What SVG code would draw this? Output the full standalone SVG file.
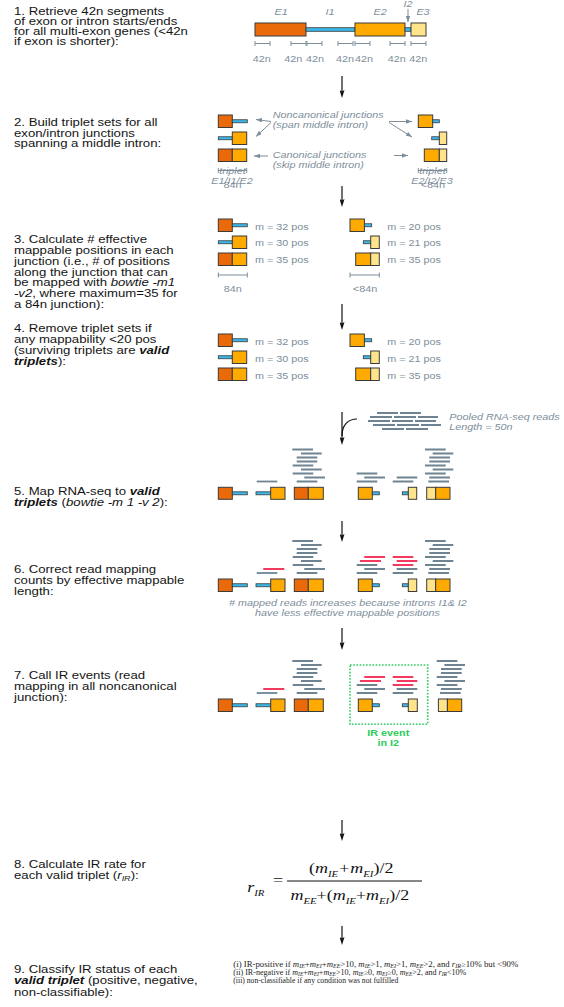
<svg xmlns="http://www.w3.org/2000/svg" width="564" height="1007" viewBox="0 0 564 1007">
<defs>
<style>
.t{font-family:"Liberation Sans",Arial,sans-serif;font-size:11px;fill:#141414}
.g{font-family:"Liberation Sans",Arial,sans-serif;font-size:9px;fill:#7d8e9a}
.i{font-style:italic}
.bi{font-weight:bold;font-style:italic}
.e1{fill:#EA6A0A;stroke:#3a3a3a;stroke-width:1}
.e2{fill:#FFAA00;stroke:#3a3a3a;stroke-width:1}
.e3{fill:#FFE48C;stroke:#3a3a3a;stroke-width:1}
.in{fill:#3DB7EA;stroke:#3a3a3a;stroke-width:0.8}
.rd{stroke:#6F8492;stroke-width:1.8}
.rr{stroke:#F23A5E;stroke-width:1.8}
.tk{stroke:#7d8e9a;stroke-width:1;fill:none}
.ar{stroke:#111;stroke-width:1.2;fill:none}
.ga{stroke:#7d8e9a;stroke-width:1;fill:none}
.f{font-family:"Liberation Serif","Times New Roman",serif;font-size:15px;fill:#111}
.c{font-family:"Liberation Serif","Times New Roman",serif;font-size:7.6px;fill:#222}
.ir{font-family:"Liberation Sans",Arial,sans-serif;font-size:9px;font-weight:bold;fill:#2ECC5C}
</style>
<marker id="ah" viewBox="0 0 8 5" refX="5" refY="2.5" markerWidth="8" markerHeight="5" markerUnits="userSpaceOnUse" orient="auto"><path d="M0,0 L8,2.5 L0,5 L1.5,2.5 Z" fill="#111"/></marker>
<marker id="gh" viewBox="0 0 6 4.5" refX="6" refY="2.25" markerWidth="6" markerHeight="4.5" markerUnits="userSpaceOnUse" orient="auto"><path d="M0,0 L6,2.25 L0,4.5 Z" fill="#7d8e9a"/></marker>
</defs>
<rect width="564" height="1007" fill="#fff"/>

<g id="connectors">
<path class="ar" marker-end="url(#ah)" d="M342,76 V95"/>
<path class="ar" marker-end="url(#ah)" d="M342,186 V204"/>
<path class="ar" marker-end="url(#ah)" d="M342,304 V327"/>
<path class="ar" marker-end="url(#ah)" d="M342,412 V442"/>
<path class="ar" d="M342,436 C342,425 348,419 357,419"/>
<path class="ar" marker-end="url(#ah)" d="M342,521 V539"/>
<path class="ar" marker-end="url(#ah)" d="M342,628 V647"/>
<path class="ar" marker-end="url(#ah)" d="M342,820 V838"/>
<path class="ar" marker-end="url(#ah)" d="M342,926 V942"/>
<path class="ga" marker-end="url(#gh)" d="M271,121.5 L256,119.5"/>
<path class="ga" marker-end="url(#gh)" d="M271,122.5 L256,136.5"/>
<path class="ga" marker-end="url(#gh)" d="M268,156 L254,156"/>
<path class="ga" marker-end="url(#gh)" d="M389,121.5 L412,121.5"/>
<path class="ga" marker-end="url(#gh)" d="M389,122.5 L412,137"/>
<path class="ga" marker-end="url(#gh)" d="M394,155.5 L408,155.5"/>
<path class="ga" marker-end="url(#gh)" d="M408,9 V22"/>
</g>

<g id="step1">
<rect class="e1" x="255" y="23" width="51" height="13"/>
<rect class="in" x="306" y="27.7" width="49" height="3.6"/>
<rect class="e2" x="355" y="23" width="50" height="13"/>
<rect class="in" x="405" y="27.7" width="6" height="3.6"/>
<rect class="e3" x="411" y="23" width="15" height="13"/>
<path class="tk" d="M255,43.5H270M255,41V46M270,41V46 M291,43.5H306M291,41V46M306,41V46 M307,43.5H322M307,41V46M322,41V46 M338,43.5H353M338,41V46M353,41V46 M355,43.5H370M355,41V46M370,41V46 M390,43.5H405M390,41V46M405,41V46 M411,43.5H426M411,41V46M426,41V46"/>
<g transform="scale(1.2 1)">
<text class="t" x="11.667" y="15.5">1. Retrieve 42n segments</text>
<text class="t" x="11.667" y="25.5">of exon or intron starts/ends</text>
<text class="t" x="11.667" y="35.5">for all multi-exon genes (&lt;42n</text>
<text class="t" x="11.667" y="45.5">if exon is shorter):</text>
<g class="g i" text-anchor="middle">
<text x="234.2" y="15">E1</text><text x="275" y="15">I1</text><text x="316.7" y="15">E2</text><text x="352.5" y="15">E3</text><text x="340" y="6.5">I2</text>
</g>
<g class="g" text-anchor="middle">
<text x="218.1" y="62">42n</text><text x="244.4" y="62">42n</text><text x="262.5" y="62">42n</text><text x="287.5" y="62">42n</text><text x="303.3" y="62">42n</text><text x="330.6" y="62">42n</text><text x="348.6" y="62">42n</text>
</g>
</g>
</g>

<g id="step2">
<rect class="e1" x="218.3" y="115" width="14" height="12.5"/><rect class="in" x="232.3" y="119.75" width="15" height="3"/>
<rect class="in" x="218.3" y="136.75" width="14" height="3"/><rect class="e2" x="232.3" y="132" width="14.4" height="12.5"/>
<rect class="e1" x="218.3" y="149" width="14" height="12.5"/><rect class="e2" x="232.3" y="149" width="14.4" height="12.5"/>
<rect class="e2" x="418.3" y="115" width="14.4" height="12.5"/><rect class="in" x="432.7" y="119.75" width="6.6" height="3"/>
<rect class="in" x="431.7" y="136.75" width="7.6" height="3"/><rect class="e3" x="439.3" y="132" width="7.4" height="12.5"/>
<rect class="e2" x="424.3" y="149" width="15" height="12.5"/><rect class="e3" x="439.3" y="149" width="7.4" height="12.5"/>
<path class="tk" d="M218.3,170.5H246.7M218.3,168V173M246.7,168V173 M418.3,170.5H446.7M418.3,168V173M446.7,168V173"/>
<g transform="scale(1.2 1)">
<text class="t" x="11.667" y="126.5">2. Build triplet sets for all</text>
<text class="t" x="11.667" y="137">exon/intron junctions</text>
<text class="t" x="11.667" y="147.5">spanning a middle intron:</text>
<g class="g i">
<text x="227.25" y="118.5">Noncanonical junctions</text>
<text x="227.25" y="128.5">(span middle intron)</text>
<text x="227.25" y="157.7">Canonical junctions</text>
<text x="227.25" y="167.7">(skip middle intron)</text>
</g>
<g class="g" text-anchor="middle">
<text class="i" x="193.75" y="174">triplet</text>
<text class="i" x="193.3" y="184.5">E1/I1/E2</text>
<text x="193.75" y="188">84n</text>
<text class="i" x="360.4" y="174">triplet</text>
<text class="i" x="360" y="184.5">E2/I2/E3</text>
<text x="360.8" y="188">&lt;84n</text>
</g>
</g>
</g>

<g id="step3">
<rect class="e1" x="218.3" y="219" width="14" height="12.5"/><rect class="in" x="232.3" y="223.75" width="15" height="3"/>
<rect class="in" x="218.3" y="240.75" width="14" height="3"/><rect class="e2" x="232.3" y="236" width="14.4" height="12.5"/>
<rect class="e1" x="218.3" y="253" width="14" height="12.5"/><rect class="e2" x="232.3" y="253" width="14.4" height="12.5"/>
<rect class="e2" x="350" y="219" width="14.4" height="12.5"/><rect class="in" x="364.4" y="223.75" width="7.3" height="3"/>
<rect class="in" x="363.3" y="240.75" width="7.4" height="3"/><rect class="e3" x="370.7" y="236" width="8.6" height="12.5"/>
<rect class="e2" x="355.7" y="253" width="15" height="12.5"/><rect class="e3" x="370.7" y="253" width="8.6" height="12.5"/>
<path class="tk" d="M218.3,275H247.3M218.3,272.5V277.5M247.3,272.5V277.5 M350,275H379.3M350,272.5V277.5M379.3,272.5V277.5"/>
<g transform="scale(1.2 1)">
<text class="t" x="11.667" y="243.5">3. Calculate # effective</text>
<text class="t" x="11.667" y="254.2">mappable positions in each</text>
<text class="t" x="11.667" y="264.9">junction (i.e., # of positions</text>
<text class="t" x="11.667" y="275.6">along the junction that can</text>
<text class="t" x="11.667" y="286.3">be mapped with <tspan class="i">bowtie -m1</tspan></text>
<text class="t" x="11.667" y="297"><tspan class="i">-v2</tspan>, where maximum=35 for</text>
<text class="t" x="11.667" y="307.7">a 84n junction):</text>
<g class="g">
<text x="212.5" y="230">m = 32 pos</text><text x="212.5" y="246.5">m = 30 pos</text><text x="212.5" y="263">m = 35 pos</text>
<text x="322.75" y="230">m = 20 pos</text><text x="322.75" y="246.5">m = 21 pos</text><text x="322.75" y="263">m = 35 pos</text>
</g>
<g class="g" text-anchor="middle"><text x="193.9" y="292">84n</text><text x="304.2" y="292">&lt;84n</text></g>
</g>
</g>

<g id="step4">
<rect class="e1" x="218.3" y="334" width="14" height="12.5"/><rect class="in" x="232.3" y="338.75" width="15" height="3"/>
<rect class="in" x="218.3" y="355.75" width="14" height="3"/><rect class="e2" x="232.3" y="351" width="14.4" height="12.5"/>
<rect class="e1" x="218.3" y="368" width="14" height="12.5"/><rect class="e2" x="232.3" y="368" width="14.4" height="12.5"/>
<rect class="e2" x="350" y="334" width="14.4" height="12.5"/><rect class="in" x="364.4" y="338.75" width="7.3" height="3"/>
<rect class="in" x="363.3" y="355.75" width="7.4" height="3"/><rect class="e3" x="370.7" y="351" width="8.6" height="12.5"/>
<rect class="e2" x="355.7" y="368" width="15" height="12.5"/><rect class="e3" x="370.7" y="368" width="8.6" height="12.5"/>
<g transform="scale(1.2 1)">
<text class="t" x="11.667" y="332">4. Remove triplet sets if</text>
<text class="t" x="11.667" y="343">any mappability &lt;20 pos</text>
<text class="t" x="11.667" y="354">(surviving triplets are <tspan class="bi">valid</tspan></text>
<text class="t" x="11.667" y="365"><tspan class="bi">triplets</tspan>):</text>
<g class="g">
<text x="212.5" y="345">m = 32 pos</text><text x="212.5" y="362">m = 30 pos</text><text x="212.5" y="379">m = 35 pos</text>
<text x="322.75" y="345">m = 20 pos</text><text x="322.75" y="362">m = 21 pos</text><text x="322.75" y="379">m = 35 pos</text>
</g>
</g>
</g>

<g id="reads-pool">
<g class="rd">
<path d="M377,413H398M400,413H421 M370,417H392M394,417H416M418,417H438 M368,421H390M392,421H413M415,421H436 M373,425H395M397,425H419M421,425H441 M382,429H404M406,429H428"/>
</g>
<g transform="scale(1.2 1)" class="g i">
<text x="374.4" y="420.5">Pooled RNA-seq reads</text>
<text x="374.4" y="430.5">Length = 50n</text>
</g>
</g>

<g id="step5">
<rect class="e1" x="218.3" y="487.3" width="14" height="12"/><rect class="in" x="232.3" y="491.8" width="15" height="3"/>
<rect class="in" x="256" y="491.8" width="14.7" height="3"/><rect class="e2" x="270.7" y="487.3" width="14.3" height="12"/>
<rect class="e1" x="294.3" y="487.3" width="14" height="12"/><rect class="e2" x="308.3" y="487.3" width="15" height="12"/>
<rect class="e2" x="358.3" y="487.3" width="14" height="12"/><rect class="in" x="372.3" y="491.8" width="7" height="3"/>
<rect class="in" x="402.3" y="491.8" width="6" height="3"/><rect class="e3" x="408.3" y="487.3" width="8.4" height="12"/>
<rect class="e3" x="426.7" y="487.3" width="9" height="12"/><rect class="e2" x="435.7" y="487.3" width="14.3" height="12"/>
<g class="rd">
<path d="M256.7,481.5H277.3"/>
<path d="M292.3,449.5H313M301,453.5H321.7M296.7,457.5H317.3M296.7,461.5H317.3M292.7,465.5H313.3M301,469.5H321.7M292.7,473.5H313.3M304.3,477.5H325M296.7,481.5H317.3"/>
<path d="M356.7,473.5H377.3M364.3,477.5H385M356.7,481.5H377.3"/>
<path d="M396.7,477.5H417.3M392.7,481.5H413.3"/>
<path d="M425,449.5H445.7M432.7,453.5H453.3M429.3,457.5H450M429.3,461.5H450M425,465.5H445.7M432.7,469.5H453.3M425,473.5H445.7M429.3,477.5H450M428.3,481.5H449"/>
</g>
<g transform="scale(1.2 1)">
<text class="t" x="11.667" y="495">5. Map RNA-seq to <tspan class="bi">valid</tspan></text>
<text class="t" x="11.667" y="506"><tspan class="bi">triplets</tspan> (<tspan class="i">bowtie -m 1 -v 2</tspan>):</text>
</g>
</g>

<g id="step6">
<rect class="e1" x="218.3" y="579" width="14" height="12.5"/><rect class="in" x="232.3" y="583.75" width="15" height="3"/>
<rect class="in" x="256" y="583.75" width="14.7" height="3"/><rect class="e2" x="270.7" y="579" width="14.3" height="12.5"/>
<rect class="e1" x="294.3" y="579" width="14" height="12.5"/><rect class="e2" x="308.3" y="579" width="15" height="12.5"/>
<rect class="e2" x="358.3" y="579" width="14" height="12.5"/><rect class="in" x="372.3" y="583.75" width="7" height="3"/>
<rect class="in" x="402.3" y="583.75" width="6" height="3"/><rect class="e3" x="408.3" y="579" width="8.4" height="12.5"/>
<rect class="e3" x="426.7" y="579" width="9" height="12.5"/><rect class="e2" x="435.7" y="579" width="14.3" height="12.5"/>
<g class="rd">
<path d="M256.7,573H277.3"/>
<path d="M292.3,541H313M301,545H321.7M296.7,549H317.3M296.7,553H317.3M292.7,557H313.3M301,561H321.7M292.7,565H313.3M304.3,569H325M296.7,573H317.3"/>
<path d="M356.7,565H377.3M364.3,569H385M356.7,573H377.3"/>
<path d="M396.7,569H417.3M392.7,573H413.3"/>
<path d="M425,541H445.7M432.7,545H453.3M429.3,549H450M429.3,553H450M425,557H445.7M432.7,561H453.3M425,565H445.7M429.3,569H450M428.3,573H449"/>
</g>
<g class="rr">
<path d="M263.3,569H284.3 M364.3,557H385M360,561H381 M392.7,557H413.3M396.7,561H417.3M392.7,565H413.3"/>
</g>
<g transform="scale(1.2 1)">
<text class="t" x="11.667" y="573">6. Correct read mapping</text>
<text class="t" x="11.667" y="584">counts by effective mappable</text>
<text class="t" x="11.667" y="595">length:</text>
<g class="g i" text-anchor="middle">
<text x="289.9" y="606"># mapped reads increases because introns I1&amp; I2</text>
<text x="289.6" y="616">have less effective mappable positions</text>
</g>
</g>
</g>

<g id="step7">
<rect class="e1" x="218.3" y="699" width="14" height="12.5"/><rect class="in" x="232.3" y="703.75" width="15" height="3"/>
<rect class="in" x="256" y="703.75" width="14.7" height="3"/><rect class="e2" x="270.7" y="699" width="14.3" height="12.5"/>
<rect class="e1" x="294.3" y="699" width="14" height="12.5"/><rect class="e2" x="308.3" y="699" width="15" height="12.5"/>
<rect class="e2" x="358.3" y="699" width="14" height="12.5"/><rect class="in" x="372.3" y="703.75" width="7" height="3"/>
<rect class="in" x="402.3" y="703.75" width="6" height="3"/><rect class="e3" x="408.3" y="699" width="9" height="12.5"/>
<rect class="e3" x="438.4" y="699" width="9" height="12.5"/><rect class="e2" x="447.4" y="699" width="14.3" height="12.5"/>
<g class="rd">
<path d="M256.7,693H277.3"/>
<path d="M292.3,661H313M301,665H321.7M296.7,669H317.3M296.7,673H317.3M292.7,677H313.3M301,681H321.7M292.7,685H313.3M304.3,689H325M296.7,693H317.3"/>
<path d="M356.7,685H377.3M364.3,689H385M356.7,693H377.3"/>
<path d="M396.7,689H417.3M392.7,693H413.3"/>
<path d="M436.7,661H457.4M444.4,665H465M441,669H461.7M441,673H461.7M436.7,677H457.4M444.4,681H465M436.7,685H457.4M441,689H461.7M440,693H460.7"/>
</g>
<g class="rr">
<path d="M263.3,689H284.3 M364.3,677H385M360,681H381 M392.7,677H413.3M396.7,681H417.3M392.7,685H413.3"/>
</g>
<rect x="350" y="665" width="77.7" height="59.3" fill="none" stroke="#2ECC5C" stroke-width="1.6" stroke-dasharray="1.6 1.6"/>
<g transform="scale(1.2 1)">
<text class="t" x="11.667" y="679">7. Call IR events (read</text>
<text class="t" x="11.667" y="690">mapping in all noncanonical</text>
<text class="t" x="11.667" y="701">junction):</text>
<g class="ir" text-anchor="middle">
<text x="323.6" y="736.5">IR event</text>
<text x="323.6" y="746.5">in I2</text>
</g>
</g>
</g>

<g id="step8">
<line x1="287" y1="881" x2="422" y2="881" stroke="#111" stroke-width="1"/>
<g transform="scale(1.2 1)">
<text class="t" x="11.667" y="868">8. Calculate IR rate for</text>
<text class="t" x="11.667" y="879">each valid triplet (<tspan class="i">r</tspan><tspan class="i" font-size="7.5" dy="2.5">IR</tspan><tspan dy="-2.5">):</tspan></text>
<text class="f" x="206" y="892"><tspan class="i">r</tspan><tspan class="i" font-size="9" dy="4">IR</tspan></text>
<text class="f" x="227.5" y="885.5">=</text>
<text class="f" x="257.5" y="873">(<tspan class="i">m</tspan><tspan class="i" font-size="9" dy="4">IE</tspan><tspan dy="-4" dx="0.8">+</tspan><tspan class="i" dx="0.8">m</tspan><tspan class="i" font-size="9" dy="4">EI</tspan><tspan dy="-4">)/2</tspan></text>
<text class="f" x="242" y="900"><tspan class="i">m</tspan><tspan class="i" font-size="9" dy="4">EE</tspan><tspan dy="-4">+(</tspan><tspan class="i">m</tspan><tspan class="i" font-size="9" dy="4">IE</tspan><tspan dy="-4">+</tspan><tspan class="i">m</tspan><tspan class="i" font-size="9" dy="4">EI</tspan><tspan dy="-4">)/2</tspan></text>
</g>
</g>

<g id="step9">
<g transform="scale(1.2 1)">
<text class="t" x="11.667" y="973">9. Classify IR status of each</text>
<text class="t" x="11.667" y="984.5"><tspan class="bi">valid triplet</tspan> (positive, negative,</text>
<text class="t" x="11.667" y="996">non-classifiable):</text>
</g>
<text class="c" x="233.3" y="966.5" textLength="285" lengthAdjust="spacingAndGlyphs">(i) IR-positive if <tspan class="i">m</tspan><tspan class="i" font-size="5.2" dy="1.2">IE</tspan><tspan dy="-1.2">+</tspan><tspan class="i">m</tspan><tspan class="i" font-size="5.2" dy="1.2">EI</tspan><tspan dy="-1.2">+</tspan><tspan class="i">m</tspan><tspan class="i" font-size="5.2" dy="1.2">EE</tspan><tspan dy="-1.2">&gt;10, </tspan><tspan class="i">m</tspan><tspan class="i" font-size="5.2" dy="1.2">IE</tspan><tspan dy="-1.2">&gt;1, </tspan><tspan class="i">m</tspan><tspan class="i" font-size="5.2" dy="1.2">EI</tspan><tspan dy="-1.2">&gt;1, </tspan><tspan class="i">m</tspan><tspan class="i" font-size="5.2" dy="1.2">EE</tspan><tspan dy="-1.2">&gt;2, and </tspan><tspan class="i">r</tspan><tspan class="i" font-size="5.2" dy="1.2">IR</tspan><tspan dy="-1.2">≥10% but &lt;90%</tspan></text>
<text class="c" x="233.3" y="974.5" textLength="233" lengthAdjust="spacingAndGlyphs">(ii) IR-negative if <tspan class="i">m</tspan><tspan class="i" font-size="5.2" dy="1.2">IE</tspan><tspan dy="-1.2">+</tspan><tspan class="i">m</tspan><tspan class="i" font-size="5.2" dy="1.2">EI</tspan><tspan dy="-1.2">+</tspan><tspan class="i">m</tspan><tspan class="i" font-size="5.2" dy="1.2">EE</tspan><tspan dy="-1.2">&gt;10, </tspan><tspan class="i">m</tspan><tspan class="i" font-size="5.2" dy="1.2">IE</tspan><tspan dy="-1.2">≥0, </tspan><tspan class="i">m</tspan><tspan class="i" font-size="5.2" dy="1.2">EI</tspan><tspan dy="-1.2">≥0, </tspan><tspan class="i">m</tspan><tspan class="i" font-size="5.2" dy="1.2">EE</tspan><tspan dy="-1.2">&gt;2, and </tspan><tspan class="i">r</tspan><tspan class="i" font-size="5.2" dy="1.2">IR</tspan><tspan dy="-1.2">&lt;10%</tspan></text>
<text class="c" x="233.3" y="982.5" textLength="165" lengthAdjust="spacingAndGlyphs">(iii) non-classifiable if any condition was not fulfilled</text>
</g>
</svg>
